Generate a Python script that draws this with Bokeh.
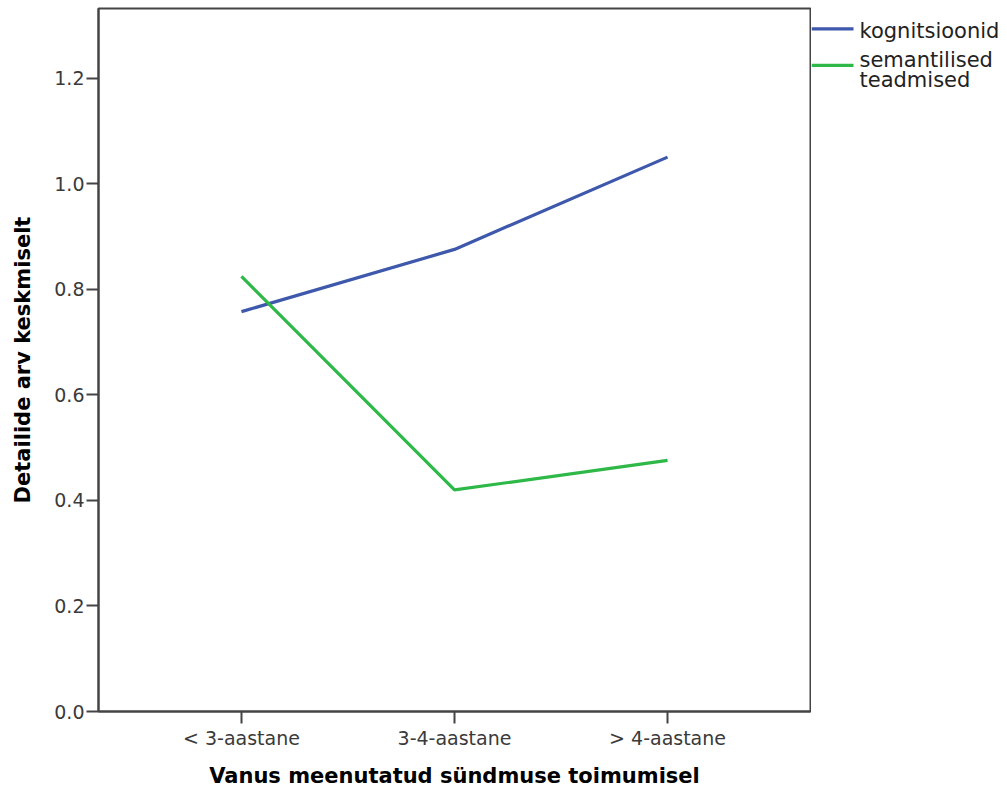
from bokeh.plotting import figure
from bokeh.layouts import row
from bokeh.models import FixedTicker, NumeralTickFormatter, Range1d, FactorRange
from bokeh.core.properties import value
from bokeh.embed import file_html
from bokeh.resources import INLINE

categories = ["< 3-aastane", "3-4-aastane", "> 4-aastane"]
kognitsioonid = [0.758, 0.876, 1.051]
semantilised = [0.825, 0.420, 0.476]
series_names = ["kognitsioonid", "semantilised", "teadmised"]
y_ticks = [0.0, 0.2, 0.4, 0.6, 0.8, 1.0, 1.2]

BLUE = "#3E58AC"
GREEN = "#2EB848"
FONT = "DejaVu Sans"
H = 791

p = figure(
    width=811, height=H,
    x_range=FactorRange(*categories, range_padding=0.171, range_padding_units="absolute"),
    y_range=Range1d(0, 1.3327),
    output_backend="svg", toolbar_location=None,
    min_border_left=98, min_border_right=1, min_border_top=8, min_border_bottom=80,
)
p.background_fill_color = "white"
p.border_fill_color = "white"
p.outline_line_color = "#444444"
p.outline_line_width = 2
p.xgrid.visible = False
p.ygrid.visible = False

p.line(categories, kognitsioonid, line_color=BLUE, line_width=3.2)
p.line(categories, semantilised, line_color=GREEN, line_width=3.2)

for ax in (p.xaxis[0], p.yaxis[0]):
    ax.axis_line_color = "#444444"
    ax.axis_line_width = 2
    ax.major_tick_line_color = "#444444"
    ax.major_tick_line_width = 2
    ax.major_tick_out = 12
    ax.major_tick_in = 0
    ax.minor_tick_line_color = None
    ax.major_label_text_font = FONT
    ax.major_label_text_font_size = "19px"
    ax.major_label_text_color = "#3a3a3a"
    ax.axis_label_text_font = FONT
    ax.axis_label_text_font_size = "21px"
    ax.axis_label_text_font_style = "bold"
    ax.axis_label_text_color = "black"

p.xaxis.axis_label = "Vanus meenutatud sündmuse toimumisel"
p.xaxis.major_label_standoff = 3
p.xaxis.axis_label_standoff = 12

p.yaxis.axis_label = "Detailide arv keskmiselt"
p.yaxis.ticker = FixedTicker(ticks=y_ticks)
p.yaxis.formatter = NumeralTickFormatter(format="0.0")
p.yaxis.major_label_standoff = 2
p.yaxis.axis_label_standoff = 16

# legend panel to the right of the frame (pixel-like coordinates, y downwards)
LW = 196
lg = figure(
    width=LW, height=H,
    x_range=Range1d(0, LW), y_range=Range1d(H, 0),
    output_backend="svg", toolbar_location=None,
    min_border_left=0, min_border_right=0, min_border_top=0, min_border_bottom=0,
)
lg.axis.visible = False
lg.grid.visible = False
lg.outline_line_color = None
lg.background_fill_color = "white"
lg.border_fill_color = "white"

lg.segment(x0=[0, 0], y0=[23, 64], x1=[42, 42], y1=[23, 64],
           line_color=[BLUE, GREEN], line_width=3.2)
lg.text(x=[48, 48, 48], y=[25, 58, 80], text=series_names,
        text_font=value(FONT), text_font_size="21px", text_color="#222222",
        text_baseline="middle", text_align="left")

layout = row(p, lg, spacing=0)
open("out.html", "w").write(file_html(layout, INLINE))
